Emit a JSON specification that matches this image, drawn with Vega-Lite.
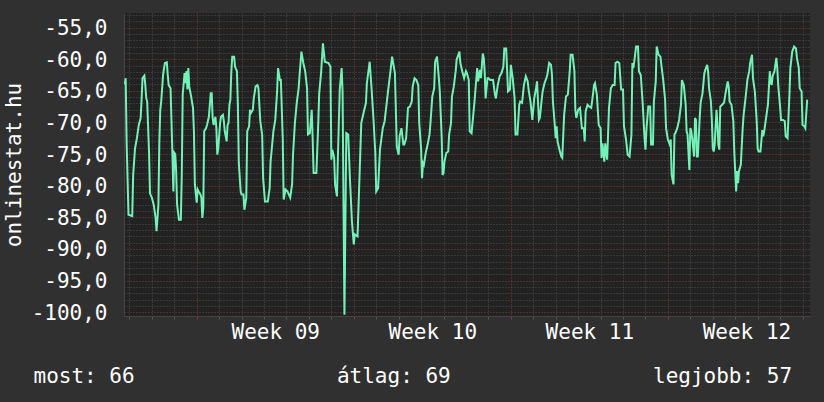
{
  "$schema": "https://vega.github.io/schema/vega-lite/v6.json",
  "autosize": {"type": "none"},
  "padding": {"left": 124, "top": 13, "right": 14, "bottom": 86},
  "width": 686,
  "height": 303,
  "background": "#303030",
  "config": {
    "view": {"stroke": null, "fill": "#222222"},
    "font": "DejaVu Sans Mono",
    "axis": {
      "labelFont": "DejaVu Sans Mono",
      "titleFont": "DejaVu Sans Mono",
      "labelFontSize": 21,
      "titleFontSize": 21,
      "labelColor": "#ffffff",
      "titleColor": "#ffffff",
      "titleFontWeight": "normal",
      "domainColor": "#444444",
      "labelOverlap": false,
      "labelFlush": false,
      "labelBound": false,
      "gridDash": [1, 2],
      "gridWidth": 1
    }
  },
  "data": {
    "values": [
      {"t": "2013-02-21T19:00:00Z", "v": -64.0},
      {"t": "2013-02-21T20:00:00Z", "v": -63.0},
      {"t": "2013-02-21T21:00:00Z", "v": -73.0},
      {"t": "2013-02-21T23:00:00Z", "v": -84.6},
      {"t": "2013-02-22T03:00:00Z", "v": -84.8},
      {"t": "2013-02-22T04:00:00Z", "v": -78.3},
      {"t": "2013-02-22T06:00:00Z", "v": -74.1},
      {"t": "2013-02-22T08:00:00Z", "v": -72.5},
      {"t": "2013-02-22T10:00:00Z", "v": -70.4},
      {"t": "2013-02-22T12:00:00Z", "v": -69.3},
      {"t": "2013-02-22T13:00:00Z", "v": -66.4},
      {"t": "2013-02-22T14:00:00Z", "v": -63.0},
      {"t": "2013-02-22T16:00:00Z", "v": -62.6},
      {"t": "2013-02-22T17:00:00Z", "v": -64.1},
      {"t": "2013-02-22T18:00:00Z", "v": -66.2},
      {"t": "2013-02-22T19:00:00Z", "v": -66.7},
      {"t": "2013-02-22T21:00:00Z", "v": -74.8},
      {"t": "2013-02-22T22:00:00Z", "v": -81.2},
      {"t": "2013-02-23T00:00:00Z", "v": -81.9},
      {"t": "2013-02-23T02:00:00Z", "v": -83.0},
      {"t": "2013-02-23T04:00:00Z", "v": -85.1},
      {"t": "2013-02-23T05:00:00Z", "v": -87.2},
      {"t": "2013-02-23T07:00:00Z", "v": -83.0},
      {"t": "2013-02-23T08:00:00Z", "v": -73.0},
      {"t": "2013-02-23T09:00:00Z", "v": -68.0},
      {"t": "2013-02-23T10:00:00Z", "v": -66.7},
      {"t": "2013-02-23T12:00:00Z", "v": -62.5},
      {"t": "2013-02-23T13:00:00Z", "v": -61.4},
      {"t": "2013-02-23T14:00:00Z", "v": -60.6},
      {"t": "2013-02-23T16:00:00Z", "v": -60.5},
      {"t": "2013-02-23T17:00:00Z", "v": -62.5},
      {"t": "2013-02-23T18:00:00Z", "v": -64.1},
      {"t": "2013-02-23T20:00:00Z", "v": -64.6},
      {"t": "2013-02-23T22:00:00Z", "v": -75.1},
      {"t": "2013-02-23T23:00:00Z", "v": -80.9},
      {"t": "2013-02-24T00:00:00Z", "v": -74.8},
      {"t": "2013-02-24T01:00:00Z", "v": -75.0},
      {"t": "2013-02-24T02:00:00Z", "v": -77.7},
      {"t": "2013-02-24T03:00:00Z", "v": -83.0},
      {"t": "2013-02-24T05:00:00Z", "v": -85.4},
      {"t": "2013-02-24T07:00:00Z", "v": -85.4},
      {"t": "2013-02-24T08:00:00Z", "v": -78.3},
      {"t": "2013-02-24T09:00:00Z", "v": -65.6},
      {"t": "2013-02-24T11:00:00Z", "v": -62.2},
      {"t": "2013-02-24T12:00:00Z", "v": -63.8},
      {"t": "2013-02-24T13:00:00Z", "v": -61.9},
      {"t": "2013-02-24T14:00:00Z", "v": -64.8},
      {"t": "2013-02-24T15:00:00Z", "v": -61.4},
      {"t": "2013-02-24T16:00:00Z", "v": -64.3},
      {"t": "2013-02-24T18:00:00Z", "v": -65.9},
      {"t": "2013-02-24T20:00:00Z", "v": -67.7},
      {"t": "2013-02-24T21:00:00Z", "v": -71.4},
      {"t": "2013-02-24T22:00:00Z", "v": -79.8},
      {"t": "2013-02-25T00:00:00Z", "v": -82.7},
      {"t": "2013-02-25T01:00:00Z", "v": -80.6},
      {"t": "2013-02-25T02:00:00Z", "v": -80.9},
      {"t": "2013-02-25T04:00:00Z", "v": -81.4},
      {"t": "2013-02-25T05:00:00Z", "v": -81.9},
      {"t": "2013-02-25T06:00:00Z", "v": -85.1},
      {"t": "2013-02-25T07:00:00Z", "v": -83.5},
      {"t": "2013-02-25T08:00:00Z", "v": -71.4},
      {"t": "2013-02-25T10:00:00Z", "v": -70.9},
      {"t": "2013-02-25T11:00:00Z", "v": -70.4},
      {"t": "2013-02-25T13:00:00Z", "v": -69.1},
      {"t": "2013-02-25T14:00:00Z", "v": -67.2},
      {"t": "2013-02-25T15:00:00Z", "v": -65.4},
      {"t": "2013-02-25T16:00:00Z", "v": -65.4},
      {"t": "2013-02-25T17:00:00Z", "v": -69.3},
      {"t": "2013-02-25T18:00:00Z", "v": -70.4},
      {"t": "2013-02-25T20:00:00Z", "v": -69.1},
      {"t": "2013-02-25T21:00:00Z", "v": -70.9},
      {"t": "2013-02-25T22:00:00Z", "v": -75.1},
      {"t": "2013-02-25T23:00:00Z", "v": -74.1},
      {"t": "2013-02-26T01:00:00Z", "v": -70.1},
      {"t": "2013-02-26T02:00:00Z", "v": -69.1},
      {"t": "2013-02-26T04:00:00Z", "v": -68.8},
      {"t": "2013-02-26T05:00:00Z", "v": -69.8},
      {"t": "2013-02-26T06:00:00Z", "v": -71.4},
      {"t": "2013-02-26T08:00:00Z", "v": -73.0},
      {"t": "2013-02-26T09:00:00Z", "v": -70.4},
      {"t": "2013-02-26T10:00:00Z", "v": -70.1},
      {"t": "2013-02-26T11:00:00Z", "v": -67.2},
      {"t": "2013-02-26T12:00:00Z", "v": -66.4},
      {"t": "2013-02-26T13:00:00Z", "v": -61.9},
      {"t": "2013-02-26T14:00:00Z", "v": -59.6},
      {"t": "2013-02-26T16:00:00Z", "v": -59.6},
      {"t": "2013-02-26T17:00:00Z", "v": -61.2},
      {"t": "2013-02-26T19:00:00Z", "v": -61.9},
      {"t": "2013-02-26T20:00:00Z", "v": -67.2},
      {"t": "2013-02-26T21:00:00Z", "v": -76.4},
      {"t": "2013-02-26T23:00:00Z", "v": -80.9},
      {"t": "2013-02-27T00:00:00Z", "v": -81.4},
      {"t": "2013-02-27T02:00:00Z", "v": -81.4},
      {"t": "2013-02-27T03:00:00Z", "v": -83.8},
      {"t": "2013-02-27T05:00:00Z", "v": -81.9},
      {"t": "2013-02-27T06:00:00Z", "v": -71.4},
      {"t": "2013-02-27T08:00:00Z", "v": -70.6},
      {"t": "2013-02-27T09:00:00Z", "v": -68.0},
      {"t": "2013-02-27T10:00:00Z", "v": -68.5},
      {"t": "2013-02-27T12:00:00Z", "v": -68.0},
      {"t": "2013-02-27T13:00:00Z", "v": -66.2},
      {"t": "2013-02-27T15:00:00Z", "v": -64.3},
      {"t": "2013-02-27T17:00:00Z", "v": -64.1},
      {"t": "2013-02-27T18:00:00Z", "v": -64.6},
      {"t": "2013-02-27T20:00:00Z", "v": -69.8},
      {"t": "2013-02-27T22:00:00Z", "v": -72.0},
      {"t": "2013-02-27T23:00:00Z", "v": -78.8},
      {"t": "2013-02-28T01:00:00Z", "v": -82.5},
      {"t": "2013-02-28T04:00:00Z", "v": -82.5},
      {"t": "2013-02-28T06:00:00Z", "v": -80.4},
      {"t": "2013-02-28T07:00:00Z", "v": -76.2},
      {"t": "2013-02-28T10:00:00Z", "v": -71.4},
      {"t": "2013-02-28T12:00:00Z", "v": -69.6},
      {"t": "2013-02-28T14:00:00Z", "v": -65.1},
      {"t": "2013-02-28T15:00:00Z", "v": -61.4},
      {"t": "2013-02-28T17:00:00Z", "v": -63.3},
      {"t": "2013-02-28T18:00:00Z", "v": -63.3},
      {"t": "2013-02-28T20:00:00Z", "v": -72.5},
      {"t": "2013-02-28T21:00:00Z", "v": -82.2},
      {"t": "2013-02-28T23:00:00Z", "v": -80.6},
      {"t": "2013-03-01T01:00:00Z", "v": -80.9},
      {"t": "2013-03-01T04:00:00Z", "v": -81.9},
      {"t": "2013-03-01T06:00:00Z", "v": -79.8},
      {"t": "2013-03-01T07:00:00Z", "v": -75.1},
      {"t": "2013-03-01T09:00:00Z", "v": -70.1},
      {"t": "2013-03-01T11:00:00Z", "v": -66.9},
      {"t": "2013-03-01T13:00:00Z", "v": -64.6},
      {"t": "2013-03-01T14:00:00Z", "v": -62.5},
      {"t": "2013-03-01T16:00:00Z", "v": -58.8},
      {"t": "2013-03-01T18:00:00Z", "v": -60.6},
      {"t": "2013-03-01T20:00:00Z", "v": -61.9},
      {"t": "2013-03-01T22:00:00Z", "v": -64.6},
      {"t": "2013-03-01T23:00:00Z", "v": -71.9},
      {"t": "2013-03-02T01:00:00Z", "v": -71.7},
      {"t": "2013-03-02T03:00:00Z", "v": -68.0},
      {"t": "2013-03-02T04:00:00Z", "v": -72.5},
      {"t": "2013-03-02T05:00:00Z", "v": -78.0},
      {"t": "2013-03-02T08:00:00Z", "v": -78.0},
      {"t": "2013-03-02T10:00:00Z", "v": -70.1},
      {"t": "2013-03-02T11:00:00Z", "v": -65.4},
      {"t": "2013-03-02T13:00:00Z", "v": -62.2},
      {"t": "2013-03-02T15:00:00Z", "v": -57.5},
      {"t": "2013-03-02T17:00:00Z", "v": -60.4},
      {"t": "2013-03-02T21:00:00Z", "v": -60.6},
      {"t": "2013-03-02T23:00:00Z", "v": -61.2},
      {"t": "2013-03-03T00:00:00Z", "v": -75.9},
      {"t": "2013-03-03T01:00:00Z", "v": -74.3},
      {"t": "2013-03-03T03:00:00Z", "v": -75.6},
      {"t": "2013-03-03T04:00:00Z", "v": -79.8},
      {"t": "2013-03-03T06:00:00Z", "v": -81.7},
      {"t": "2013-03-03T07:00:00Z", "v": -75.4},
      {"t": "2013-03-03T09:00:00Z", "v": -64.8},
      {"t": "2013-03-03T11:00:00Z", "v": -61.4},
      {"t": "2013-03-03T12:00:00Z", "v": -65.1},
      {"t": "2013-03-03T14:00:00Z", "v": -100.4},
      {"t": "2013-03-03T16:00:00Z", "v": -71.7},
      {"t": "2013-03-03T18:00:00Z", "v": -71.9},
      {"t": "2013-03-03T20:00:00Z", "v": -79.3},
      {"t": "2013-03-03T22:00:00Z", "v": -85.6},
      {"t": "2013-03-04T00:00:00Z", "v": -89.3},
      {"t": "2013-03-04T01:00:00Z", "v": -87.7},
      {"t": "2013-03-04T04:00:00Z", "v": -88.0},
      {"t": "2013-03-04T06:00:00Z", "v": -79.1},
      {"t": "2013-03-04T08:00:00Z", "v": -70.1},
      {"t": "2013-03-04T10:00:00Z", "v": -68.8},
      {"t": "2013-03-04T13:00:00Z", "v": -66.9},
      {"t": "2013-03-04T14:00:00Z", "v": -63.8},
      {"t": "2013-03-04T17:00:00Z", "v": -60.4},
      {"t": "2013-03-04T19:00:00Z", "v": -64.6},
      {"t": "2013-03-04T21:00:00Z", "v": -69.3},
      {"t": "2013-03-04T23:00:00Z", "v": -74.8},
      {"t": "2013-03-05T00:00:00Z", "v": -80.9},
      {"t": "2013-03-05T02:00:00Z", "v": -80.4},
      {"t": "2013-03-05T04:00:00Z", "v": -74.3},
      {"t": "2013-03-05T07:00:00Z", "v": -70.9},
      {"t": "2013-03-05T09:00:00Z", "v": -69.8},
      {"t": "2013-03-05T11:00:00Z", "v": -67.2},
      {"t": "2013-03-05T13:00:00Z", "v": -64.6},
      {"t": "2013-03-05T15:00:00Z", "v": -62.2},
      {"t": "2013-03-05T17:00:00Z", "v": -59.6},
      {"t": "2013-03-05T20:00:00Z", "v": -62.2},
      {"t": "2013-03-05T22:00:00Z", "v": -73.8},
      {"t": "2013-03-06T00:00:00Z", "v": -75.1},
      {"t": "2013-03-06T01:00:00Z", "v": -72.2},
      {"t": "2013-03-06T03:00:00Z", "v": -70.9},
      {"t": "2013-03-06T05:00:00Z", "v": -73.5},
      {"t": "2013-03-06T06:00:00Z", "v": -73.5},
      {"t": "2013-03-06T08:00:00Z", "v": -72.5},
      {"t": "2013-03-06T10:00:00Z", "v": -67.7},
      {"t": "2013-03-06T12:00:00Z", "v": -67.5},
      {"t": "2013-03-06T14:00:00Z", "v": -66.7},
      {"t": "2013-03-06T15:00:00Z", "v": -64.3},
      {"t": "2013-03-06T17:00:00Z", "v": -63.0},
      {"t": "2013-03-06T19:00:00Z", "v": -63.3},
      {"t": "2013-03-06T21:00:00Z", "v": -64.1},
      {"t": "2013-03-06T22:00:00Z", "v": -70.1},
      {"t": "2013-03-07T00:00:00Z", "v": -74.1},
      {"t": "2013-03-07T01:00:00Z", "v": -78.8},
      {"t": "2013-03-07T02:00:00Z", "v": -76.4},
      {"t": "2013-03-07T03:00:00Z", "v": -76.7},
      {"t": "2013-03-07T05:00:00Z", "v": -74.8},
      {"t": "2013-03-07T07:00:00Z", "v": -73.5},
      {"t": "2013-03-07T09:00:00Z", "v": -71.9},
      {"t": "2013-03-07T10:00:00Z", "v": -70.1},
      {"t": "2013-03-07T12:00:00Z", "v": -65.9},
      {"t": "2013-03-07T14:00:00Z", "v": -64.6},
      {"t": "2013-03-07T15:00:00Z", "v": -60.4},
      {"t": "2013-03-07T17:00:00Z", "v": -59.6},
      {"t": "2013-03-07T19:00:00Z", "v": -63.0},
      {"t": "2013-03-07T20:00:00Z", "v": -65.1},
      {"t": "2013-03-07T22:00:00Z", "v": -72.2},
      {"t": "2013-03-07T23:00:00Z", "v": -78.3},
      {"t": "2013-03-08T00:00:00Z", "v": -78.0},
      {"t": "2013-03-08T01:00:00Z", "v": -76.2},
      {"t": "2013-03-08T03:00:00Z", "v": -74.8},
      {"t": "2013-03-08T05:00:00Z", "v": -74.6},
      {"t": "2013-03-08T06:00:00Z", "v": -71.9},
      {"t": "2013-03-08T08:00:00Z", "v": -70.1},
      {"t": "2013-03-08T09:00:00Z", "v": -65.9},
      {"t": "2013-03-08T11:00:00Z", "v": -64.3},
      {"t": "2013-03-08T13:00:00Z", "v": -61.9},
      {"t": "2013-03-08T14:00:00Z", "v": -60.1},
      {"t": "2013-03-08T17:00:00Z", "v": -58.8},
      {"t": "2013-03-08T18:00:00Z", "v": -60.6},
      {"t": "2013-03-08T20:00:00Z", "v": -61.9},
      {"t": "2013-03-08T22:00:00Z", "v": -63.0},
      {"t": "2013-03-09T00:00:00Z", "v": -61.9},
      {"t": "2013-03-09T01:00:00Z", "v": -62.2},
      {"t": "2013-03-09T03:00:00Z", "v": -63.3},
      {"t": "2013-03-09T04:00:00Z", "v": -71.4},
      {"t": "2013-03-09T06:00:00Z", "v": -71.7},
      {"t": "2013-03-09T09:00:00Z", "v": -66.9},
      {"t": "2013-03-09T10:00:00Z", "v": -65.1},
      {"t": "2013-03-09T12:00:00Z", "v": -61.4},
      {"t": "2013-03-09T13:00:00Z", "v": -63.5},
      {"t": "2013-03-09T15:00:00Z", "v": -61.7},
      {"t": "2013-03-09T16:00:00Z", "v": -63.0},
      {"t": "2013-03-09T18:00:00Z", "v": -59.1},
      {"t": "2013-03-09T19:00:00Z", "v": -59.8},
      {"t": "2013-03-09T20:00:00Z", "v": -61.9},
      {"t": "2013-03-09T21:00:00Z", "v": -66.2},
      {"t": "2013-03-09T23:00:00Z", "v": -63.0},
      {"t": "2013-03-10T00:00:00Z", "v": -63.0},
      {"t": "2013-03-10T02:00:00Z", "v": -63.3},
      {"t": "2013-03-10T05:00:00Z", "v": -63.3},
      {"t": "2013-03-10T07:00:00Z", "v": -65.6},
      {"t": "2013-03-10T08:00:00Z", "v": -66.2},
      {"t": "2013-03-10T10:00:00Z", "v": -64.1},
      {"t": "2013-03-10T12:00:00Z", "v": -62.7},
      {"t": "2013-03-10T14:00:00Z", "v": -62.2},
      {"t": "2013-03-10T16:00:00Z", "v": -61.2},
      {"t": "2013-03-10T17:00:00Z", "v": -58.3},
      {"t": "2013-03-10T19:00:00Z", "v": -58.3},
      {"t": "2013-03-10T21:00:00Z", "v": -65.1},
      {"t": "2013-03-10T23:00:00Z", "v": -64.8},
      {"t": "2013-03-11T00:00:00Z", "v": -60.9},
      {"t": "2013-03-11T02:00:00Z", "v": -63.0},
      {"t": "2013-03-11T04:00:00Z", "v": -66.2},
      {"t": "2013-03-11T05:00:00Z", "v": -71.9},
      {"t": "2013-03-11T07:00:00Z", "v": -71.9},
      {"t": "2013-03-11T09:00:00Z", "v": -67.2},
      {"t": "2013-03-11T10:00:00Z", "v": -66.7},
      {"t": "2013-03-11T12:00:00Z", "v": -66.9},
      {"t": "2013-03-11T14:00:00Z", "v": -64.1},
      {"t": "2013-03-11T16:00:00Z", "v": -62.7},
      {"t": "2013-03-11T18:00:00Z", "v": -63.5},
      {"t": "2013-03-11T19:00:00Z", "v": -64.8},
      {"t": "2013-03-11T21:00:00Z", "v": -66.7},
      {"t": "2013-03-11T23:00:00Z", "v": -69.6},
      {"t": "2013-03-12T01:00:00Z", "v": -66.2},
      {"t": "2013-03-12T03:00:00Z", "v": -64.6},
      {"t": "2013-03-12T04:00:00Z", "v": -63.5},
      {"t": "2013-03-12T06:00:00Z", "v": -69.6},
      {"t": "2013-03-12T07:00:00Z", "v": -69.3},
      {"t": "2013-03-12T09:00:00Z", "v": -66.4},
      {"t": "2013-03-12T10:00:00Z", "v": -65.1},
      {"t": "2013-03-12T12:00:00Z", "v": -63.8},
      {"t": "2013-03-12T14:00:00Z", "v": -63.0},
      {"t": "2013-03-12T15:00:00Z", "v": -62.5},
      {"t": "2013-03-12T17:00:00Z", "v": -60.6},
      {"t": "2013-03-12T19:00:00Z", "v": -60.9},
      {"t": "2013-03-12T20:00:00Z", "v": -62.5},
      {"t": "2013-03-12T21:00:00Z", "v": -66.7},
      {"t": "2013-03-12T23:00:00Z", "v": -70.4},
      {"t": "2013-03-13T00:00:00Z", "v": -72.5},
      {"t": "2013-03-13T01:00:00Z", "v": -70.6},
      {"t": "2013-03-13T02:00:00Z", "v": -73.0},
      {"t": "2013-03-13T04:00:00Z", "v": -74.3},
      {"t": "2013-03-13T06:00:00Z", "v": -75.4},
      {"t": "2013-03-13T07:00:00Z", "v": -75.6},
      {"t": "2013-03-13T09:00:00Z", "v": -68.8},
      {"t": "2013-03-13T11:00:00Z", "v": -65.9},
      {"t": "2013-03-13T13:00:00Z", "v": -65.6},
      {"t": "2013-03-13T15:00:00Z", "v": -61.9},
      {"t": "2013-03-13T16:00:00Z", "v": -59.3},
      {"t": "2013-03-13T18:00:00Z", "v": -59.3},
      {"t": "2013-03-13T20:00:00Z", "v": -61.9},
      {"t": "2013-03-13T21:00:00Z", "v": -68.0},
      {"t": "2013-03-13T22:00:00Z", "v": -69.3},
      {"t": "2013-03-14T00:00:00Z", "v": -68.0},
      {"t": "2013-03-14T02:00:00Z", "v": -67.7},
      {"t": "2013-03-14T04:00:00Z", "v": -70.9},
      {"t": "2013-03-14T06:00:00Z", "v": -70.9},
      {"t": "2013-03-14T07:00:00Z", "v": -73.0},
      {"t": "2013-03-14T08:00:00Z", "v": -68.3},
      {"t": "2013-03-14T10:00:00Z", "v": -67.2},
      {"t": "2013-03-14T12:00:00Z", "v": -67.5},
      {"t": "2013-03-14T14:00:00Z", "v": -67.7},
      {"t": "2013-03-14T16:00:00Z", "v": -65.4},
      {"t": "2013-03-14T17:00:00Z", "v": -64.1},
      {"t": "2013-03-14T18:00:00Z", "v": -63.8},
      {"t": "2013-03-14T20:00:00Z", "v": -65.6},
      {"t": "2013-03-14T22:00:00Z", "v": -70.4},
      {"t": "2013-03-15T00:00:00Z", "v": -70.9},
      {"t": "2013-03-15T01:00:00Z", "v": -75.6},
      {"t": "2013-03-15T02:00:00Z", "v": -73.3},
      {"t": "2013-03-15T04:00:00Z", "v": -76.2},
      {"t": "2013-03-15T05:00:00Z", "v": -73.3},
      {"t": "2013-03-15T07:00:00Z", "v": -75.9},
      {"t": "2013-03-15T08:00:00Z", "v": -71.9},
      {"t": "2013-03-15T09:00:00Z", "v": -67.7},
      {"t": "2013-03-15T11:00:00Z", "v": -64.6},
      {"t": "2013-03-15T13:00:00Z", "v": -64.1},
      {"t": "2013-03-15T15:00:00Z", "v": -64.1},
      {"t": "2013-03-15T16:00:00Z", "v": -60.6},
      {"t": "2013-03-15T18:00:00Z", "v": -60.4},
      {"t": "2013-03-15T20:00:00Z", "v": -60.6},
      {"t": "2013-03-15T22:00:00Z", "v": -64.8},
      {"t": "2013-03-16T00:00:00Z", "v": -64.8},
      {"t": "2013-03-16T01:00:00Z", "v": -70.6},
      {"t": "2013-03-16T03:00:00Z", "v": -72.5},
      {"t": "2013-03-16T05:00:00Z", "v": -75.1},
      {"t": "2013-03-16T07:00:00Z", "v": -75.4},
      {"t": "2013-03-16T09:00:00Z", "v": -71.9},
      {"t": "2013-03-16T10:00:00Z", "v": -60.6},
      {"t": "2013-03-16T11:00:00Z", "v": -61.4},
      {"t": "2013-03-16T12:00:00Z", "v": -60.4},
      {"t": "2013-03-16T14:00:00Z", "v": -58.0},
      {"t": "2013-03-16T16:00:00Z", "v": -58.0},
      {"t": "2013-03-16T17:00:00Z", "v": -61.9},
      {"t": "2013-03-16T19:00:00Z", "v": -62.5},
      {"t": "2013-03-16T21:00:00Z", "v": -66.9},
      {"t": "2013-03-16T23:00:00Z", "v": -72.5},
      {"t": "2013-03-17T00:00:00Z", "v": -74.3},
      {"t": "2013-03-17T01:00:00Z", "v": -71.2},
      {"t": "2013-03-17T03:00:00Z", "v": -67.5},
      {"t": "2013-03-17T05:00:00Z", "v": -67.5},
      {"t": "2013-03-17T06:00:00Z", "v": -73.5},
      {"t": "2013-03-17T08:00:00Z", "v": -73.5},
      {"t": "2013-03-17T09:00:00Z", "v": -66.7},
      {"t": "2013-03-17T11:00:00Z", "v": -63.5},
      {"t": "2013-03-17T12:00:00Z", "v": -58.0},
      {"t": "2013-03-17T14:00:00Z", "v": -59.3},
      {"t": "2013-03-17T16:00:00Z", "v": -59.6},
      {"t": "2013-03-17T17:00:00Z", "v": -60.9},
      {"t": "2013-03-17T19:00:00Z", "v": -63.3},
      {"t": "2013-03-17T21:00:00Z", "v": -66.4},
      {"t": "2013-03-17T22:00:00Z", "v": -70.9},
      {"t": "2013-03-18T00:00:00Z", "v": -72.7},
      {"t": "2013-03-18T02:00:00Z", "v": -73.5},
      {"t": "2013-03-18T03:00:00Z", "v": -72.7},
      {"t": "2013-03-18T04:00:00Z", "v": -78.3},
      {"t": "2013-03-18T06:00:00Z", "v": -79.8},
      {"t": "2013-03-18T07:00:00Z", "v": -71.9},
      {"t": "2013-03-18T08:00:00Z", "v": -71.7},
      {"t": "2013-03-18T10:00:00Z", "v": -70.9},
      {"t": "2013-03-18T12:00:00Z", "v": -69.6},
      {"t": "2013-03-18T14:00:00Z", "v": -67.2},
      {"t": "2013-03-18T15:00:00Z", "v": -63.3},
      {"t": "2013-03-18T17:00:00Z", "v": -64.1},
      {"t": "2013-03-18T19:00:00Z", "v": -67.2},
      {"t": "2013-03-18T20:00:00Z", "v": -71.4},
      {"t": "2013-03-18T21:00:00Z", "v": -71.9},
      {"t": "2013-03-18T23:00:00Z", "v": -77.5},
      {"t": "2013-03-19T00:00:00Z", "v": -70.9},
      {"t": "2013-03-19T01:00:00Z", "v": -71.4},
      {"t": "2013-03-19T02:00:00Z", "v": -72.5},
      {"t": "2013-03-19T04:00:00Z", "v": -75.4},
      {"t": "2013-03-19T05:00:00Z", "v": -69.3},
      {"t": "2013-03-19T06:00:00Z", "v": -69.6},
      {"t": "2013-03-19T07:00:00Z", "v": -75.4},
      {"t": "2013-03-19T08:00:00Z", "v": -75.4},
      {"t": "2013-03-19T10:00:00Z", "v": -69.3},
      {"t": "2013-03-19T11:00:00Z", "v": -66.9},
      {"t": "2013-03-19T13:00:00Z", "v": -65.4},
      {"t": "2013-03-19T15:00:00Z", "v": -62.2},
      {"t": "2013-03-19T16:00:00Z", "v": -61.7},
      {"t": "2013-03-19T18:00:00Z", "v": -60.9},
      {"t": "2013-03-19T19:00:00Z", "v": -61.9},
      {"t": "2013-03-19T20:00:00Z", "v": -64.6},
      {"t": "2013-03-19T22:00:00Z", "v": -66.7},
      {"t": "2013-03-19T23:00:00Z", "v": -69.6},
      {"t": "2013-03-20T00:00:00Z", "v": -74.1},
      {"t": "2013-03-20T01:00:00Z", "v": -74.6},
      {"t": "2013-03-20T02:00:00Z", "v": -73.5},
      {"t": "2013-03-20T04:00:00Z", "v": -68.0},
      {"t": "2013-03-20T05:00:00Z", "v": -70.4},
      {"t": "2013-03-20T06:00:00Z", "v": -73.5},
      {"t": "2013-03-20T07:00:00Z", "v": -74.3},
      {"t": "2013-03-20T08:00:00Z", "v": -67.5},
      {"t": "2013-03-20T10:00:00Z", "v": -67.2},
      {"t": "2013-03-20T12:00:00Z", "v": -66.9},
      {"t": "2013-03-20T14:00:00Z", "v": -65.1},
      {"t": "2013-03-20T16:00:00Z", "v": -63.5},
      {"t": "2013-03-20T17:00:00Z", "v": -64.3},
      {"t": "2013-03-20T18:00:00Z", "v": -66.7},
      {"t": "2013-03-20T20:00:00Z", "v": -67.2},
      {"t": "2013-03-20T22:00:00Z", "v": -69.8},
      {"t": "2013-03-20T23:00:00Z", "v": -74.6},
      {"t": "2013-03-21T00:00:00Z", "v": -77.7},
      {"t": "2013-03-21T01:00:00Z", "v": -80.9},
      {"t": "2013-03-21T02:00:00Z", "v": -77.7},
      {"t": "2013-03-21T03:00:00Z", "v": -79.6},
      {"t": "2013-03-21T04:00:00Z", "v": -77.7},
      {"t": "2013-03-21T06:00:00Z", "v": -76.7},
      {"t": "2013-03-21T08:00:00Z", "v": -70.9},
      {"t": "2013-03-21T09:00:00Z", "v": -68.8},
      {"t": "2013-03-21T11:00:00Z", "v": -66.2},
      {"t": "2013-03-21T13:00:00Z", "v": -63.3},
      {"t": "2013-03-21T15:00:00Z", "v": -61.9},
      {"t": "2013-03-21T16:00:00Z", "v": -60.6},
      {"t": "2013-03-21T18:00:00Z", "v": -59.3},
      {"t": "2013-03-21T19:00:00Z", "v": -63.0},
      {"t": "2013-03-21T21:00:00Z", "v": -65.1},
      {"t": "2013-03-21T23:00:00Z", "v": -69.8},
      {"t": "2013-03-22T00:00:00Z", "v": -74.1},
      {"t": "2013-03-22T01:00:00Z", "v": -74.6},
      {"t": "2013-03-22T03:00:00Z", "v": -74.6},
      {"t": "2013-03-22T05:00:00Z", "v": -71.2},
      {"t": "2013-03-22T06:00:00Z", "v": -72.2},
      {"t": "2013-03-22T07:00:00Z", "v": -71.4},
      {"t": "2013-03-22T09:00:00Z", "v": -69.3},
      {"t": "2013-03-22T11:00:00Z", "v": -67.2},
      {"t": "2013-03-22T13:00:00Z", "v": -61.9},
      {"t": "2013-03-22T14:00:00Z", "v": -63.5},
      {"t": "2013-03-22T15:00:00Z", "v": -64.1},
      {"t": "2013-03-22T16:00:00Z", "v": -62.7},
      {"t": "2013-03-22T18:00:00Z", "v": -61.9},
      {"t": "2013-03-22T20:00:00Z", "v": -59.8},
      {"t": "2013-03-22T21:00:00Z", "v": -61.4},
      {"t": "2013-03-22T22:00:00Z", "v": -64.1},
      {"t": "2013-03-23T00:00:00Z", "v": -67.5},
      {"t": "2013-03-23T01:00:00Z", "v": -69.6},
      {"t": "2013-03-23T03:00:00Z", "v": -69.6},
      {"t": "2013-03-23T05:00:00Z", "v": -69.8},
      {"t": "2013-03-23T06:00:00Z", "v": -72.2},
      {"t": "2013-03-23T08:00:00Z", "v": -72.5},
      {"t": "2013-03-23T10:00:00Z", "v": -65.6},
      {"t": "2013-03-23T11:00:00Z", "v": -61.4},
      {"t": "2013-03-23T13:00:00Z", "v": -58.8},
      {"t": "2013-03-23T15:00:00Z", "v": -58.0},
      {"t": "2013-03-23T17:00:00Z", "v": -58.3},
      {"t": "2013-03-23T18:00:00Z", "v": -59.8},
      {"t": "2013-03-23T20:00:00Z", "v": -61.4},
      {"t": "2013-03-23T21:00:00Z", "v": -64.6},
      {"t": "2013-03-23T23:00:00Z", "v": -65.1},
      {"t": "2013-03-24T00:00:00Z", "v": -70.4},
      {"t": "2013-03-24T02:00:00Z", "v": -70.6},
      {"t": "2013-03-24T03:00:00Z", "v": -70.9},
      {"t": "2013-03-24T05:00:00Z", "v": -66.4}
    ]
  },
  "mark": {"type": "line", "color": "#72f2b6", "strokeWidth": 2, "clip": true},
  "encoding": {
    "x": {
      "field": "t",
      "type": "temporal",
      "scale": {
        "type": "utc",
        "domain": [
          {"year": 2013, "month": 2, "date": 21, "hours": 18, "minutes": 12, "utc": true},
          {"year": 2013, "month": 3, "date": 24, "hours": 8, "utc": true}
        ]
      },
      "axis": {
        "values": [
          {"year": 2013, "month": 2, "date": 22, "utc": true},
          {"year": 2013, "month": 2, "date": 23, "utc": true},
          {"year": 2013, "month": 2, "date": 24, "utc": true},
          {"year": 2013, "month": 2, "date": 25, "utc": true},
          {"year": 2013, "month": 2, "date": 26, "utc": true},
          {"year": 2013, "month": 2, "date": 27, "utc": true},
          {"year": 2013, "month": 2, "date": 28, "utc": true},
          {"year": 2013, "month": 2, "date": 28, "hours": 12, "utc": true},
          {"year": 2013, "month": 3, "date": 1, "utc": true},
          {"year": 2013, "month": 3, "date": 2, "utc": true},
          {"year": 2013, "month": 3, "date": 3, "utc": true},
          {"year": 2013, "month": 3, "date": 4, "utc": true},
          {"year": 2013, "month": 3, "date": 5, "utc": true},
          {"year": 2013, "month": 3, "date": 6, "utc": true},
          {"year": 2013, "month": 3, "date": 7, "utc": true},
          {"year": 2013, "month": 3, "date": 7, "hours": 12, "utc": true},
          {"year": 2013, "month": 3, "date": 8, "utc": true},
          {"year": 2013, "month": 3, "date": 9, "utc": true},
          {"year": 2013, "month": 3, "date": 10, "utc": true},
          {"year": 2013, "month": 3, "date": 11, "utc": true},
          {"year": 2013, "month": 3, "date": 12, "utc": true},
          {"year": 2013, "month": 3, "date": 13, "utc": true},
          {"year": 2013, "month": 3, "date": 14, "utc": true},
          {"year": 2013, "month": 3, "date": 14, "hours": 12, "utc": true},
          {"year": 2013, "month": 3, "date": 15, "utc": true},
          {"year": 2013, "month": 3, "date": 16, "utc": true},
          {"year": 2013, "month": 3, "date": 17, "utc": true},
          {"year": 2013, "month": 3, "date": 18, "utc": true},
          {"year": 2013, "month": 3, "date": 19, "utc": true},
          {"year": 2013, "month": 3, "date": 20, "utc": true},
          {"year": 2013, "month": 3, "date": 21, "utc": true},
          {"year": 2013, "month": 3, "date": 21, "hours": 12, "utc": true},
          {"year": 2013, "month": 3, "date": 22, "utc": true},
          {"year": 2013, "month": 3, "date": 23, "utc": true},
          {"year": 2013, "month": 3, "date": 24, "utc": true}
        ],
        "labelExpr": "utchours(datum.value) === 12 ? 'Week ' + utcFormat(datum.value, '%V') : ''",
        "labelAngle": 0,
        "labelAlign": "center",
        "labelBaseline": "top",
        "labelPadding": 2,
        "tickSize": 3,
        "tickColor": {"condition": {"test": "utcday(datum.value) === 1", "value": "#803c3c"}, "value": "#555555"},
        "tickOpacity": {"condition": {"test": "utchours(datum.value) === 12", "value": 0}, "value": 1},
        "grid": true,
        "gridColor": {"condition": {"test": "utcday(datum.value) === 1", "value": "#803c3c"}, "value": "#4e4e4e"},
        "gridOpacity": {"condition": {"test": "utchours(datum.value) === 12", "value": 0}, "value": 1},
        "title": "most: 66\u00a0\u00a0\u00a0\u00a0\u00a0\u00a0\u00a0\u00a0\u00a0\u00a0\u00a0\u00a0\u00a0\u00a0\u00a0\u00a0átlag: 69\u00a0\u00a0\u00a0\u00a0\u00a0\u00a0\u00a0\u00a0\u00a0\u00a0\u00a0\u00a0\u00a0\u00a0\u00a0\u00a0legjobb: 57",
        "titleAnchor": "start",
        "titleAlign": "left",
        "titleX": -91,
        "titleY": 66,
        "titleBaseline": "alphabetic"
      }
    },
    "y": {
      "field": "v",
      "type": "quantitative",
      "scale": {"domain": [-100.6, -52.7], "nice": false, "zero": false},
      "axis": {
        "values": [-100, -99, -98, -97, -96, -95, -94, -93, -92, -91, -90, -89, -88, -87, -86, -85, -84, -83, -82, -81, -80, -79, -78, -77, -76, -75, -74, -73, -72, -71, -70, -69, -68, -67, -66, -65, -64, -63, -62, -61, -60, -59, -58, -57, -56, -55, -54, -53],
        "labelExpr": "datum.value % 5 === 0 ? '-' + abs(datum.value) + ',0' : ''",
        "labelPadding": 17,
        "labelBaseline": "middle",
        "labelOffset": 1,
        "tickSize": 0,
        "grid": true,
        "gridColor": {"condition": {"test": "datum.value % 5 === 0", "value": "#803c3c"}, "value": "#4e4e4e"},
        "title": "onlinestat.hu",
        "titlePadding": 7
      }
    }
  }
}
